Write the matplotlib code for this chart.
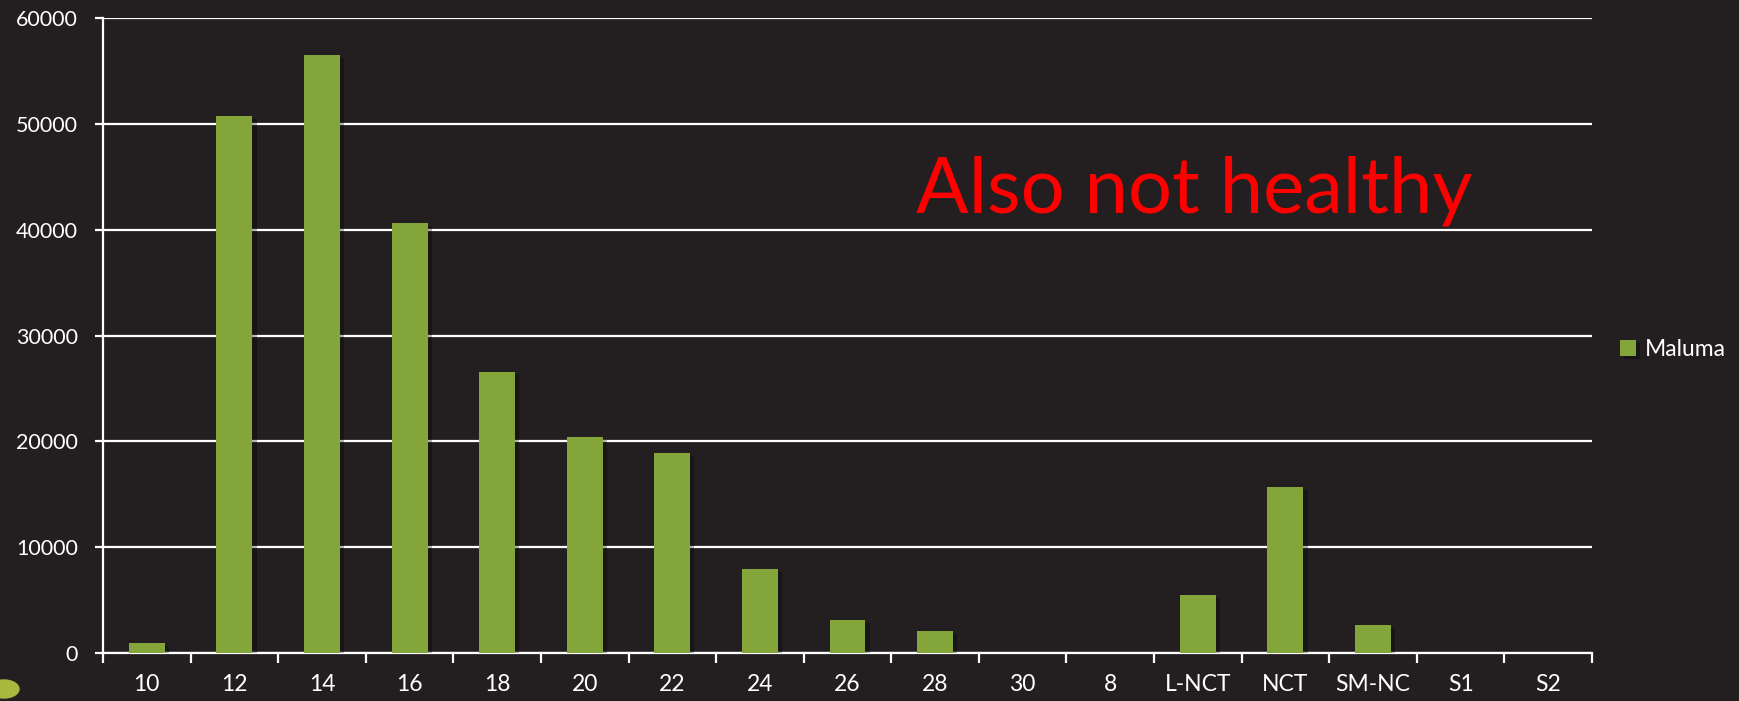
import matplotlib
matplotlib.use("Agg")
import matplotlib.pyplot as plt
import matplotlib.patheffects as pe
from matplotlib.patches import Ellipse
import numpy as np

# Данные
categories = ["10", "12", "14", "16", "18", "20", "22", "24", "26", "28", "30", "8",
              "L-NCT", "NCT", "SM-NC", "S1", "S2"]
maluma = [900, 50750, 56500, 40650, 26550, 20380, 18920, 7940, 3140, 2090, 0, 0,
          5450, 15680, 2600, 0, 0]
y_ticks = [0, 10000, 20000, 30000, 40000, 50000, 60000]

bg = "#231F20"
bar_color = "#84A53A"
plt.rcParams["font.family"] = ["Lato", "DejaVu Sans"]

fig = plt.figure(figsize=(17.4, 7.01), dpi=100, facecolor=bg)
ax = fig.add_axes([103 / 1740, 48 / 701, (1592 - 103) / 1740, (653 - 18) / 701])
ax.set_facecolor(bg)

x = np.arange(len(categories))
bars = ax.bar(x, maluma, width=0.41, color=bar_color, label="Maluma", zorder=3)
for b in bars:
    b.set_path_effects([pe.SimplePatchShadow(offset=(3, -2), shadow_rgbFace="black", alpha=0.3),
                        pe.Normal()])

ax.set_xlim(-0.5, len(categories) - 0.5)
ax.set_ylim(0, 60000)
ax.set_yticks(y_ticks)
ax.set_yticklabels([str(v) for v in y_ticks])
ax.yaxis.grid(True, color="white", linewidth=1.6, zorder=1)
ax.set_axisbelow(True)

ax.set_xticks(x)
ax.set_xticklabels(categories)
ax.set_xticks(np.arange(-0.5, len(categories)), minor=True)
ax.tick_params(axis="x", which="major", length=0, pad=15, labelsize=16.5, colors="white")
ax.tick_params(axis="x", which="minor", length=7, width=1.6, color="white", direction="out")
ax.tick_params(axis="y", length=6, width=1.6, color="white", labelsize=15.5,
               labelcolor="white", pad=12)

for s in ["top", "right"]:
    ax.spines[s].set_visible(False)
for s in ["left", "bottom"]:
    ax.spines[s].set_color("white")
    ax.spines[s].set_linewidth(1.6)

ax.legend(loc="center left", bbox_to_anchor=(1.005, 0.478), frameon=False, fontsize=16.5,
          labelcolor="white", handlelength=0.7, handleheight=0.7, handletextpad=0.4)

fig.text(916 / 1740, (701 - 213) / 701, "Also not healthy", color="#FF0000",
         fontsize=56, va="baseline", ha="left")

# декоративное пятно внизу слева
fig.add_artist(Ellipse((4 / 1740, (701 - 689) / 701), 30 / 1740, 18 / 701,
                       transform=fig.transFigure, color="#A9B83E"))

fig.savefig("out.png", dpi=100, facecolor=bg)
